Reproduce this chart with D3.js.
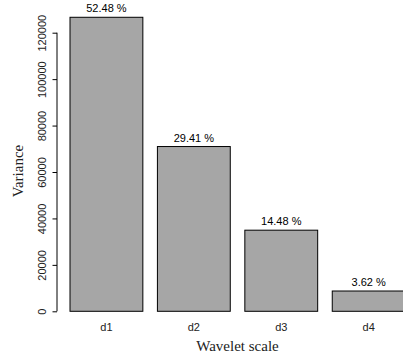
<!DOCTYPE html>
<html lang="en">
<head>
<meta charset="utf-8" />
<script src="https://cdn.jsdelivr.net/npm/d3@7"></script>
<style>
body { margin: 0; background: #fff; }
svg { font-family: "Liberation Sans", Arial, sans-serif; }
.serif { font-family: "Liberation Serif", "Times New Roman", serif; }
</style>
</head>
<body>
<svg id="chart" width="403" height="355"></svg>
<script>
var scales = ["d1", "d2", "d3", "d4"];
var variance = [126640, 70970, 34940, 8740];
var percent = ["52.48 %", "29.41 %", "14.48 %", "3.62 %"];
var yTicks = [0, 20000, 40000, 60000, 80000, 100000, 120000];

var svg = d3.select("#chart");

var x = d3.scaleBand()
    .domain(scales)
    .range([70, 405.1])
    .paddingInner(0.2 / 1.2)
    .paddingOuter(0);

var y = d3.scaleLinear()
    .domain([0, 120000])
    .range([311.3, 32.7]);

// bars
svg.selectAll("rect.bar")
    .data(scales)
  .enter().append("rect")
    .attr("class", "bar")
    .attr("x", function(d) { return x(d); })
    .attr("y", function(d, i) { return y(variance[i]); })
    .attr("width", x.bandwidth())
    .attr("height", function(d, i) { return y(0) - y(variance[i]); })
    .attr("fill", "#a6a6a6")
    .attr("stroke", "#000")
    .attr("stroke-width", 1);

// percentage labels above bars
svg.selectAll("text.pct")
    .data(scales)
  .enter().append("text")
    .attr("class", "pct")
    .attr("x", function(d) { return x(d) + x.bandwidth() / 2; })
    .attr("y", function(d, i) { return y(variance[i]) - 5; })
    .attr("text-anchor", "middle")
    .attr("font-size", 11)
    .attr("fill", "#000")
    .text(function(d, i) { return percent[i]; });

// category labels
svg.selectAll("text.cat")
    .data(scales)
  .enter().append("text")
    .attr("class", "cat")
    .attr("x", function(d) { return x(d) + x.bandwidth() / 2; })
    .attr("y", 330.5)
    .attr("text-anchor", "middle")
    .attr("font-size", 11)
    .attr("fill", "#222")
    .text(function(d) { return d; });

// y axis
var yAxis = d3.axisLeft(y).tickValues(yTicks).tickSize(4.5).tickPadding(3)
    .tickFormat(d3.format("d"));
var gy = svg.append("g").attr("transform", "translate(57,0)").call(yAxis);
gy.select(".domain").attr("d", "M0," + y(0) + "V" + y(120000)).attr("stroke", "#000");
gy.selectAll(".tick line").attr("stroke", "#000");
gy.selectAll(".tick text")
    .attr("font-size", 11)
    .attr("font-family", "Liberation Sans, Arial, sans-serif")
    .attr("fill", "#222")
    .attr("text-anchor", "middle")
    .attr("dy", null)
    .attr("x", null)
    .attr("transform", "translate(-11,0) rotate(-90)")
    .attr("y", 0);

// axis titles
svg.append("text")
    .attr("class", "serif")
    .attr("transform", "translate(22.5,171) rotate(-90)")
    .attr("text-anchor", "middle")
    .attr("font-size", 15)
    .attr("fill", "#222")
    .text("Variance");

svg.append("text")
    .attr("class", "serif")
    .attr("x", 237.5)
    .attr("y", 350.5)
    .attr("text-anchor", "middle")
    .attr("font-size", 15)
    .attr("fill", "#222")
    .text("Wavelet scale");
</script>
</body>
</html>
